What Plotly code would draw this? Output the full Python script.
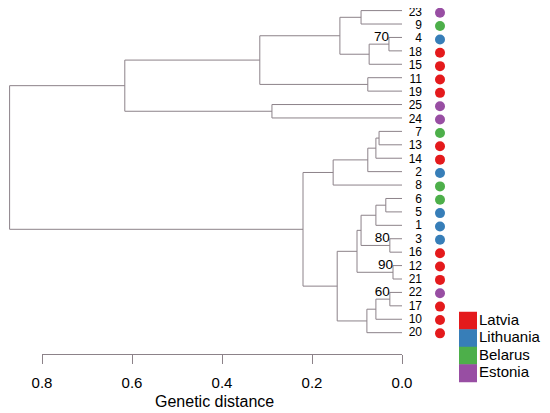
import plotly.graph_objects as go

# leaf -> country
leaf_group = {
    "23": "Estonia", "9": "Belarus", "4": "Lithuania", "18": "Latvia", "15": "Latvia",
    "11": "Latvia", "19": "Latvia", "25": "Estonia", "24": "Estonia", "7": "Belarus",
    "13": "Latvia", "14": "Latvia", "2": "Lithuania", "8": "Belarus", "6": "Belarus",
    "5": "Lithuania", "1": "Lithuania", "3": "Lithuania", "16": "Latvia", "12": "Latvia",
    "21": "Latvia", "22": "Estonia", "17": "Latvia", "10": "Latvia", "20": "Latvia",
}

# (height, [children]) ; leaves are strings
tree = (0.872, [
    (0.616, [
        (0.316, [
            (0.138, [
                (0.091, ["23", "9"]),
                (0.073, [(0.029, ["4", "18"]), "15"]),
            ]),
            (0.076, ["11", "19"]),
        ]),
        (0.289, ["25", "24"]),
    ]),
    (0.220, [
        (0.153, [
            (0.076, [(0.058, [(0.051, ["7", "13"]), "14"]), "2"]),
            "8",
        ]),
        (0.144, [
            (0.100, [
                (0.091, [(0.058, [(0.036, ["6", "5"]), "1"]), (0.027, ["3", "16"])]),
                (0.020, ["12", "21"]),
            ]),
            (0.078, [(0.058, [(0.027, ["22", "17"]), "10"]), "20"]),
        ]),
    ]),
])

# bootstrap support on a node, keyed by its two leaves
bootstrap = {("4", "18"): "70", ("3", "16"): "80", ("12", "21"): "90", ("22", "17"): "60"}

countries = ["Latvia", "Lithuania", "Belarus", "Estonia"]
colors = ["#E41A1C", "#377EB8", "#4DAF4A", "#984EA3"]
cmap = dict(zip(countries, colors))

ticks = [0.8, 0.6, 0.4, 0.2, 0.0]
tick_text = ["0.8", "0.6", "0.4", "0.2", "0.0"]

# ---- walk the tree
order = []
seg_x, seg_y = [], []
boot_x, boot_y, boot_t = [], [], []


def walk(node):
    if isinstance(node, str):
        order.append(node)
        return len(order) - 1, 0.0
    h, kids = node
    pos = [walk(k) for k in kids]
    ys = [p[0] for p in pos]
    seg_x.extend([h, h, None])
    seg_y.extend([min(ys), max(ys), None])
    for y, ch in pos:
        seg_x.extend([ch, h, None])
        seg_y.extend([y, y, None])
    if all(isinstance(k, str) for k in kids) and tuple(kids) in bootstrap:
        boot_x.append(h)
        boot_y.append(min(ys))
        boot_t.append(bootstrap[tuple(kids)])
    return sum(ys) / len(ys), h


walk(tree)
n = len(order)

# the page body has an 8px margin, so the figure is drawn offset by 8px
OFF = 8
W, H = 550 - OFF, 413 - OFF
x0px, scale = 402, 450.0          # window pixel of distance 0, pixels per unit
y0px, step = 10.6, 13.42          # window pixel of first leaf line, pixels per leaf


def dx(px):
    return (x0px - px) / scale


def dy(px):
    return (px - y0px) / step


# labels and dots sit a little below the branch tips at the top of the tree
lab_y = [dy(12.7 + 13.36 * i) for i in range(n)]

line_col = "#8c8289"
font = "Liberation Sans, Arial, sans-serif"

fig = go.Figure()
fig.add_trace(go.Scatter(x=seg_x, y=seg_y, mode="lines",
                         line=dict(color=line_col, width=1), hoverinfo="skip"))

fig.add_trace(go.Scatter(x=[dx(422)] * n, y=lab_y, mode="text", text=order,
                         textposition="middle left", cliponaxis=False,
                         textfont=dict(family=font, size=12, color="black")))

fig.add_trace(go.Scatter(x=[dx(440)] * n, y=lab_y, mode="markers",
                         marker=dict(size=10, color=[cmap[leaf_group[l]] for l in order]),
                         cliponaxis=False))

fig.add_trace(go.Scatter(x=boot_x, y=boot_y, mode="text", text=boot_t,
                         textposition="middle left", cliponaxis=False,
                         textfont=dict(family=font, size=13.5, color="black")))

# legend boxes
leg_y = [dy(320.75 + 17.5 * i) for i in range(len(countries))]
fig.add_trace(go.Scatter(x=[dx(468)] * len(countries), y=leg_y, mode="markers",
                         marker=dict(symbol="square", size=18, color=colors, line=dict(width=0)),
                         cliponaxis=False))
fig.add_trace(go.Scatter(x=[dx(479)] * len(countries), y=leg_y, mode="text", text=countries,
                         textposition="middle right", cliponaxis=False,
                         textfont=dict(family=font, size=15, color="black")))

# dummy trace for the distance axis
fig.add_trace(go.Scatter(x=[0.8, 0.0], y=[None, None], xaxis="x2", yaxis="y",
                         mode="lines", hoverinfo="skip"))

fig.update_layout(
    width=W, height=H,
    margin=dict(l=0, r=0, t=0, b=0, autoexpand=False),
    paper_bgcolor="white", plot_bgcolor="rgba(0,0,0,0)",
    showlegend=False,
    xaxis=dict(range=[dx(OFF), dx(OFF + W)], domain=[0, 1], visible=False, automargin=False),
    yaxis=dict(range=[dy(OFF + H), dy(OFF)], domain=[0, 1], visible=False, automargin=False),
    xaxis2=dict(domain=[(x0px - 0.8 * scale - OFF) / W, (x0px - OFF) / W], range=[0.8, 0.0],
                anchor="free", position=1 - (354 - OFF) / H, automargin=False,
                showline=True, linecolor=line_col, linewidth=1,
                ticks="outside", ticklen=9, tickcolor=line_col, tickwidth=1,
                ticklabelstandoff=6,
                tickvals=ticks, ticktext=tick_text, showgrid=False, zeroline=False,
                tickfont=dict(family=font, size=15, color="black")),
    annotations=[dict(text="Genetic distance", x=dx(214), y=dy(401), xref="x", yref="y",
                      showarrow=False, xanchor="center", yanchor="middle",
                      font=dict(family=font, size=16, color="black"))],
)

fig.write_html("out.html")
